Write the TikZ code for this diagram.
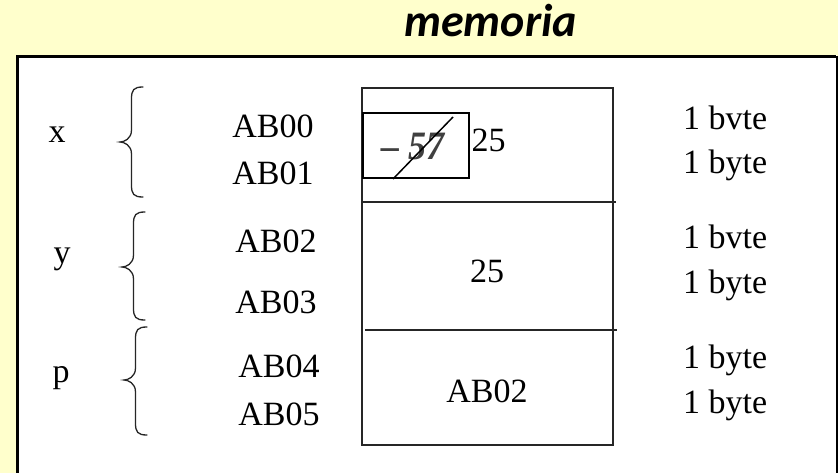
\documentclass[tikz,border=0pt]{standalone}
\usepackage{fontspec}
\usetikzlibrary{calc}
\setmainfont{Liberation Serif}
\newfontfamily\titlefont{Carlito}
\definecolor{bgyellow}{HTML}{FFFFCC}
\definecolor{oldval}{HTML}{404040}
\newcommand\curly[5]{%
  \pgfmathsetmacro\cs{(#1+#2)/2}%
  \draw[bracestyle] (#1,#3) .. controls (\cs+2,#3) and (\cs,#3+3) .. (\cs,#3+12)
    -- (\cs,#4-12) .. controls (\cs,#4-3) and (#2+4,#4) .. (#2,#4)
    .. controls (#2+4,#4) and (\cs,#4+3) .. (\cs,#4+12)
    -- (\cs,#5-12) .. controls (\cs,#5-3) and (\cs+2,#5) .. (#1,#5);}
\begin{document}
\begin{tikzpicture}[x=1pt,y=-1pt,
  txt/.style={inner sep=0pt,anchor=base,font=\fontsize{34}{40}\selectfont},
  bytetxt/.style={txt,anchor=base west},
  bracestyle/.style={line width=1.3pt,draw=black!85,line cap=round},
  cell/.style={line width=1.3pt,draw=black!85}]
\useasboundingbox (0,0) rectangle (838,473);
\fill[bgyellow] (0,0) rectangle (838,473);
% white frame
\fill[white] (16,55) rectangle (837,473);
\draw[line width=3pt] (17.5,473) -- (17.5,56.5) -- (836,56.5);
\draw[line width=2pt] (836.5,56.5) -- (836.5,473);
% title
\node[inner sep=0pt,anchor=base,font=\titlefont\bfseries\itshape\fontsize{46}{50}\selectfont] (title) at (490.5,37) {memoria};
% variables
\node[txt] (vx) at (57,143) {x};
\node[txt] (vy) at (62,263) {y};
\node[txt] (vp) at (61,382) {p};
% braces
\curly{143}{120}{87}{142}{197}
\curly{145}{122}{212}{267}{320}
\curly{147}{124}{327}{380}{435}
% addresses
\node[txt] (a0) at (273,138) {AB00};
\node[txt] (a1) at (273,185) {AB01};
\node[txt] (a2) at (276,252) {AB02};
\node[txt] (a3) at (276,313) {AB03};
\node[txt] (a4) at (279,377) {AB04};
\node[txt] (a5) at (279,425) {AB05};
% memory box
\draw[cell] (362,88) rectangle (613,445);
\draw[cell] (362,202) -- (616,202);
\draw[cell] (365,330) -- (617,330);
% old value box
\node[draw,line width=2pt,minimum width=106pt,minimum height=65pt,inner sep=0pt] (old) at (416,145.5) {};
\node[inner sep=0pt,anchor=base,text=oldval,yscale=1.12,font=\fontsize{36}{40}\selectfont\bfseries\itshape] (oldtxt) at (413,160) {– 57};
\coordinate (s1) at ($(old.south west)+(31,0)$);
\coordinate (s2) at ($(old.north west)+(91,5)$);
\draw[line width=1.5pt] (s1) -- (s2);
% values
\node[txt] (v1) at (488.5,152) {25};
\node[txt] (v2) at (487,282) {25};
\node[txt] (v3) at (487,402) {AB02};
% sizes
\node[bytetxt] (b0) at (683,130) {1 bvte};
\node[bytetxt] (b1) at (683,174) {1 byte};
\node[bytetxt] (b2) at (683,248) {1 bvte};
\node[bytetxt] (b3) at (683,293) {1 byte};
\node[bytetxt] (b4) at (683,368) {1 byte};
\node[bytetxt] (b5) at (683,413) {1 byte};
\end{tikzpicture}
\end{document}
